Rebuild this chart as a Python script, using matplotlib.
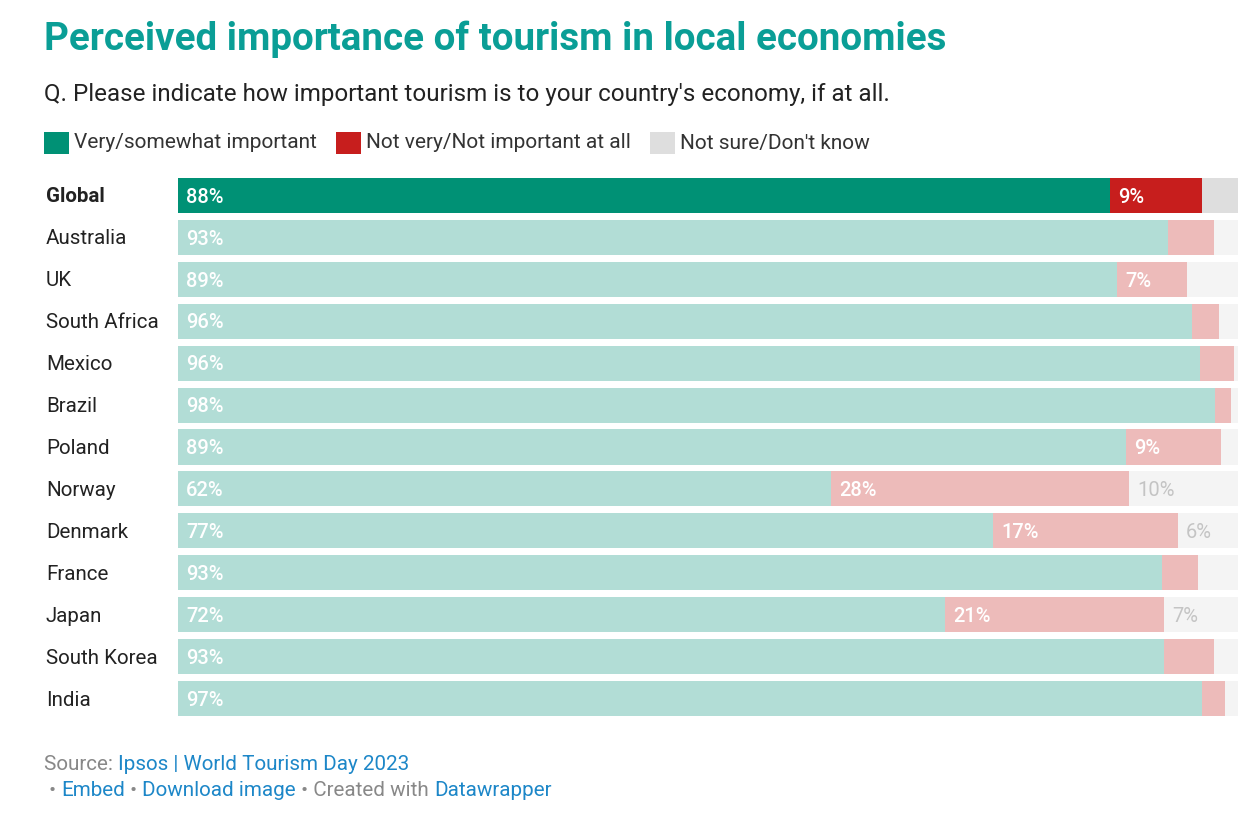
import matplotlib
matplotlib.use("Agg")
import matplotlib.pyplot as plt
from matplotlib.patches import Rectangle

plt.rcParams['font.family'] = ['Roboto', 'DejaVu Sans']

# Data
countries = ["Global", "Australia", "UK", "South Africa", "Mexico", "Brazil", "Poland",
             "Norway", "Denmark", "France", "Japan", "South Korea", "India"]
important = [87.9, 93.4, 88.6, 95.7, 96.4, 97.8, 89.4, 61.6, 76.9, 92.8, 72.4, 93.0, 96.6]
not_important = [8.7, 4.3, 6.6, 2.5, 3.2, 1.5, 9.0, 28.1, 17.4, 3.4, 20.6, 4.7, 2.2]
not_sure = [3.4, 2.3, 4.8, 1.8, 0.4, 0.7, 1.6, 10.3, 5.7, 3.8, 7.0, 2.3, 1.2]
legend_labels = ["Very/somewhat important", "Not very/Not important at all", "Not sure/Don't know"]

# Colours
strong = ["#009175", "#c71e1d", "#dedede"]
light = ["#b2ddd6", "#edbbba", "#f4f4f4"]
TEAL = "#0a9e96"

W, H = 1260, 817
fig = plt.figure(figsize=(W / 100, H / 100), dpi=100)
fig.patch.set_facecolor("white")

row_h = 41.9
top_c, bot_c = 195.5, 698.5
ax_top = top_c - row_h / 2
ax_bot = bot_c + row_h / 2
ax = fig.add_axes([178 / W, 1 - ax_bot / H, 1060 / W, (ax_bot - ax_top) / H])
ax.set_xlim(0, 100)
ax.set_ylim(len(countries) - 0.5, -0.5)
ax.axis("off")

bar_h = 35 / row_h
series = [important, not_important, not_sure]
thresholds = [0, 6.5, 5.5]
pad = 8 / 1060 * 100
for i, c in enumerate(countries):
    left = 0
    cols = strong if i == 0 else light
    for k, vals in enumerate(series):
        v = vals[i]
        ax.barh(i, v, left=left, height=bar_h, color=cols[k], linewidth=0)
        if v >= thresholds[k]:
            tcol = "#c4c4c4" if k == 2 else "white"
            ax.text(left + pad, i + 0.04, f"{v:.0f}%", va="center", ha="left", fontsize=14.5,
                    color=tcol, fontweight="medium" if k < 2 else "normal")
        left += v
    fig.text(46 / W, 1 - (top_c + 1.5 + i * (bot_c - top_c) / 12) / H, c, va="center", ha="left",
             fontsize=14.8, color="#222222", fontweight="bold" if i == 0 else "normal")

# Titles
fig.text(44 / W, 1 - 39 / H, "Perceived importance of tourism in local economies", fontsize=27.7,
         fontweight="bold", color=TEAL, va="center", ha="left")
fig.text(44 / W, 1 - 94.5 / H, "Q. Please indicate how important tourism is to your country's economy, if at all.",
         fontsize=17.4, color="#222222", va="center", ha="left")

# Legend
renderer = fig.canvas.get_renderer()
x = 44
ly = 143
for k, lab in enumerate(legend_labels):
    fig.patches.append(Rectangle((x / W, 1 - (ly + 11) / H), 25 / W, 22 / H, transform=fig.transFigure,
                                 facecolor=strong[k], edgecolor="none"))
    t = fig.text((x + 30) / W, 1 - ly / H, lab, fontsize=15, color="#333333", va="center", ha="left")
    bb = t.get_window_extent(renderer)
    x = bb.x1 + 19


def run_text(x, y, parts, size=14.9):
    for s, col in parts:
        t = fig.text(x / W, 1 - y / H, s, fontsize=size, color=col, va="center", ha="left")
        x = t.get_window_extent(renderer).x1


GRAY = "#888888"
BLUE = "#1d87c8"
run_text(44, 765, [("Source: ", GRAY), ("Ipsos | World Tourism Day 2023", BLUE)])
run_text(44, 790, [(" \u2022 ", GRAY), ("Embed", BLUE), (" \u2022 ", GRAY), ("Download image", BLUE),
                   (" \u2022 Created with ", GRAY), ("Datawrapper", BLUE)])

fig.savefig("out.png", dpi=100)
